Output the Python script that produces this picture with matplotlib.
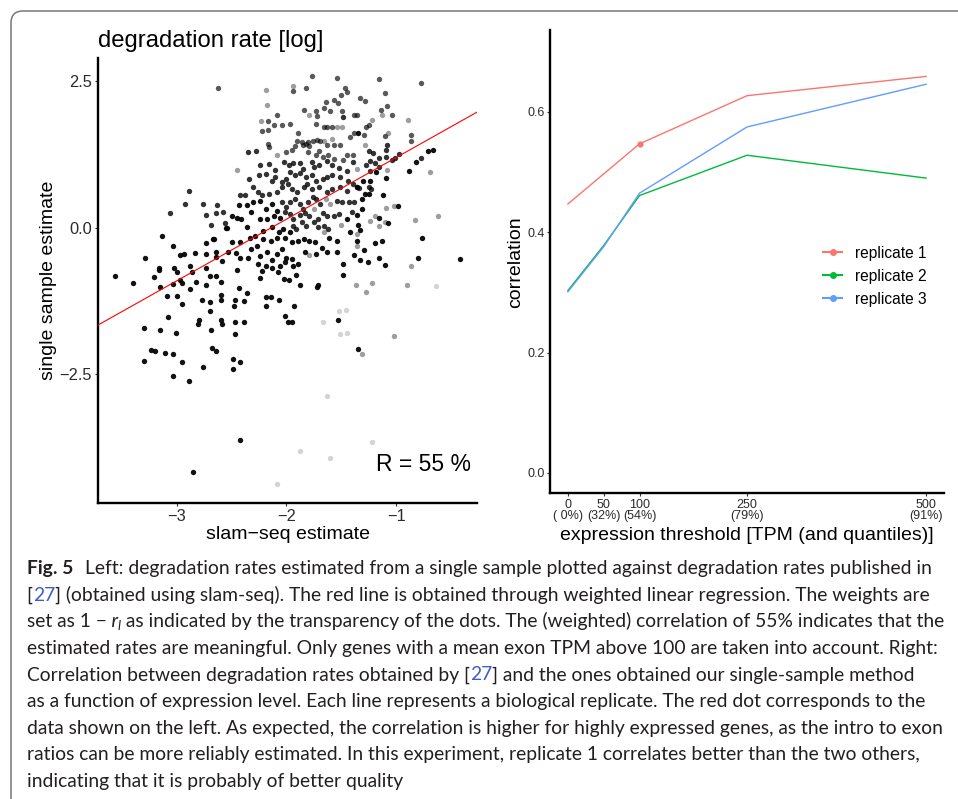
import matplotlib
matplotlib.use("Agg")
import matplotlib.pyplot as plt
from matplotlib import font_manager
from matplotlib.patches import FancyBboxPatch
from matplotlib.lines import Line2D
from matplotlib.transforms import IdentityTransform
from matplotlib.ticker import FuncFormatter

# ---------------------------------------------------------------- data
# left panel: (slam-seq estimate, single sample estimate) grouped by weight (1 - r)
weight_dark = 0.93
pts_dark = [
    (-2.55, -0.01), (-3.13, -0.15), (-3.03, -0.31), (-2.73, -0.27), (-2.67, -0.20), (-2.66, -0.20),
    (-2.97, -0.47), (-2.93, -0.45), (-2.83, -0.44), (-2.73, -0.45), (-2.64, -0.42), (-2.64, -0.50),
    (-2.59, -0.57), (-3.29, -0.52), (-3.16, -0.69), (-3.02, -0.69), (-2.88, -0.65), (-2.73, -0.69),
    (-3.56, -0.83), (-3.40, -0.95), (-3.21, -0.85), (-3.15, -1.01), (-3.00, -0.76), (-2.97, -0.90),
    (-2.86, -0.76), (-2.82, -0.93), (-3.03, -0.96), (-2.95, -0.94), (-2.88, -1.05), (-2.70, -0.82),
    (-2.64, -0.82), (-2.60, -0.93), (-2.73, -0.97), (-3.09, -1.17), (-3.00, -1.17), (-2.95, -1.30),
    (-3.08, -1.52), (-3.30, -1.71), (-3.15, -1.74), (-3.01, -1.79), (-2.77, -1.24), (-2.70, -1.27),
    (-2.60, -1.24), (-2.70, -1.42), (-2.80, -1.58), (-2.81, -1.64), (-2.69, -1.74), (-2.60, -1.58),
    (-2.59, -1.64), (-3.30, -2.27), (-3.23, -2.08), (-3.20, -2.11), (-3.11, -2.14), (-3.03, -2.15),
    (-2.95, -2.29), (-3.03, -2.52), (-2.89, -2.62), (-2.76, -2.37), (-2.68, -2.05), (-2.64, -2.11),
    (-2.85, -4.17), (-3.16, -0.72), (-2.60, -1.15),
    (-2.45, -0.72), (-2.24, -0.86), (-2.22, -0.74), (-2.08, -0.75), (-2.02, -0.87), (-1.98, -0.89),
    (-1.88, -0.97), (-1.72, -1.01), (-1.71, -0.97), (-2.43, -1.03), (-2.36, -1.12), (-2.47, -1.23),
    (-2.39, -1.25), (-2.48, -1.33), (-2.19, -1.19), (-2.14, -1.19), (-2.07, -1.23), (-2.19, -1.33),
    (-1.93, -1.33), (-2.01, -1.50), (-1.99, -1.60), (-1.95, -1.60), (-2.47, -1.61), (-2.39, -1.61),
    (-2.47, -1.81), (-2.49, -2.24), (-2.42, -2.29), (-2.49, -2.41), (-1.53, -1.57), (-1.48, -0.81),
    (-2.42, -3.62), (-1.35, -2.06), (-1.91, -0.80),
    (-2.43, 0.38), (-2.36, 0.39), (-2.30, 0.43), (-2.24, 0.46), (-2.19, 0.32), (-2.13, 0.40), (-2.09, 0.29),
    (-2.50, 0.20), (-2.45, 0.16), (-2.41, 0.15), (-2.32, 0.27), (-2.24, 0.15), (-2.18, 0.15), (-2.11, 0.20),
    (-2.06, 0.16), (-1.45, 0.15),
    (-2.54, -0.01), (-2.36, 0.01), (-2.29, -0.14), (-2.21, -0.05), (-2.13, 0.01), (-2.07, -0.08),
    (-2.03, -0.02), (-1.97, -0.08), (-1.42, -0.08),
    (-2.50, -0.25), (-2.42, -0.25), (-2.33, -0.17), (-2.27, -0.31), (-2.21, -0.19), (-2.14, -0.22),
    (-2.09, -0.17), (-2.01, -0.17), (-1.95, -0.25), (-1.89, -0.22), (-1.84, -0.19), (-1.79, -0.22),
    (-1.74, -0.25), (-1.61, -0.17), (-1.54, -0.22),
    (-2.53, -0.42), (-2.46, -0.44), (-2.42, -0.51), (-2.35, -0.51), (-2.32, -0.36), (-2.24, -0.48),
    (-2.18, -0.42), (-2.13, -0.56), (-2.09, -0.45), (-2.04, -0.36), (-2.00, -0.51), (-1.95, -0.54),
    (-1.89, -0.62), (-1.83, -0.42), (-1.73, -0.45), (-1.68, -0.35), (-1.63, -0.42), (-1.54, -0.42),
    (-1.48, -0.62), (-1.38, -0.47),
    (-2.26, -0.62), (-2.19, -0.65), (-2.13, -0.68), (-2.06, -0.65), (-2.01, -0.59), (-1.94, -0.65),
    (-0.71, 1.30), (-0.66, 1.33), (-0.82, 1.12), (-1.18, 0.94), (-0.88, 0.97), (-1.09, 0.85),
    (-1.30, 0.80), (-1.24, 0.79), (-1.28, 0.57), (-1.25, 0.58), (-1.12, 0.56), (-1.31, 0.48),
    (-0.98, 0.36), (-1.31, 0.32), (-1.36, 0.21), (-1.16, 0.16), (-1.07, 0.08), (-1.33, -0.04),
    (-1.35, 0.05), (-1.13, -0.22), (-1.19, -0.27), (-1.36, -0.23), (-1.29, -0.38), (-0.76, -0.18),
    (-0.42, -0.54), (-0.80, -0.52), (-1.16, -0.52), (-1.33, -0.55), (-1.26, -0.59), (-1.10, -0.63),
    (-1.35, 1.61),
]

weight_dkgray = 0.80
pts_dkgray = [
    (-2.89, 0.63), (-2.92, 0.40), (-2.76, 0.40), (-2.63, 0.38), (-3.06, 0.25), (-2.73, 0.22),
    (-2.64, 0.25), (-2.58, 0.27), (-2.69, 0.05), (-2.56, 0.08),
    (-2.24, 1.06), (-2.16, 1.09), (-2.10, 0.98), (-2.02, 1.12), (-1.98, 1.07), (-1.94, 1.10),
    (-1.88, 1.10), (-1.85, 1.00), (-1.77, 1.12), (-1.75, 1.03), (-1.70, 1.06), (-1.63, 1.14),
    (-1.58, 1.06), (-1.52, 1.01), (-1.45, 0.97), (-1.39, 1.12),
    (-2.34, 0.83), (-2.25, 0.90), (-2.19, 0.92), (-2.13, 0.79), (-2.10, 0.86), (-2.04, 0.77),
    (-2.00, 0.83), (-1.97, 0.94), (-1.92, 0.89), (-1.88, 0.93), (-1.82, 0.86), (-1.77, 0.90),
    (-1.73, 0.79), (-1.67, 0.82), (-1.63, 0.86), (-1.58, 0.89), (-1.51, 0.86), (-1.44, 0.80),
    (-1.39, 0.75),
    (-2.38, 0.56), (-2.42, 0.55), (-2.30, 0.69), (-2.26, 0.61), (-2.22, 0.55), (-2.16, 0.57),
    (-2.09, 0.60), (-2.04, 0.69), (-1.99, 0.75), (-1.95, 0.66), (-1.90, 0.61), (-1.84, 0.69),
    (-1.81, 0.75), (-1.77, 0.66), (-1.70, 0.70), (-1.63, 0.61), (-1.58, 0.66), (-1.51, 0.70),
    (-1.45, 0.63), (-1.36, 0.70),
    (-2.04, 0.43), (-2.00, 0.35), (-1.97, 0.43), (-1.92, 0.48), (-1.88, 0.40), (-1.85, 0.32),
    (-1.80, 0.43), (-1.76, 0.52), (-1.73, 0.49), (-1.69, 0.40), (-1.54, 0.46), (-1.49, 0.43),
    (-1.43, 0.43), (-1.38, 0.43),
    (-2.01, 0.26), (-1.97, 0.23), (-1.94, 0.15), (-1.88, 0.22), (-1.83, 0.25), (-1.79, 0.20),
    (-1.71, 0.15), (-1.67, 0.25), (-1.63, 0.20), (-1.57, 0.20), (-1.52, 0.23), (-1.40, 0.26),
    (-1.94, 0.03), (-1.91, -0.02), (-1.86, 0.09), (-1.82, 0.03), (-1.75, 0.09), (-1.71, 0.01),
    (-1.66, 0.03), (-1.62, -0.02),
    (-2.35, 1.29), (-2.28, 1.30), (-1.48, 1.88),
    (-1.25, 1.30), (-1.21, 1.27), (-0.97, 1.25), (-1.01, 1.19), (-1.04, 1.16), (-1.09, 1.20),
    (-1.16, 1.19), (-1.24, 1.13), (-1.19, 1.10), (-1.27, 1.07), (-1.16, 1.03), (-0.77, 1.18),
    (-1.24, 0.96), (-1.36, 0.69), (-1.34, 0.67), (-1.25, 0.69), (-1.23, 0.65), (-1.09, 1.33),
    (-1.08, 1.40),
]

weight_mid = 0.65
pts_mid = [
    (-2.62, 2.38),
    (-1.77, 2.58), (-1.54, 2.55), (-1.94, 2.33), (-1.82, 2.37), (-1.47, 2.37), (-1.45, 2.31),
    (-1.50, 2.26), (-2.09, 1.92), (-2.17, 1.81), (-1.84, 2.01), (-1.73, 1.98), (-1.72, 1.90),
    (-1.66, 2.03), (-1.64, 2.14), (-1.57, 2.18), (-1.60, 1.98), (-1.53, 2.12), (-1.49, 1.98),
    (-1.38, 1.91), (-2.11, 1.74), (-2.04, 1.75), (-1.97, 1.77), (-1.89, 1.62), (-1.73, 1.77),
    (-1.66, 1.71), (-1.63, 1.72), (-1.58, 1.72), (-2.22, 1.64), (-2.17, 1.67), (-1.42, 1.54),
    (-1.38, 1.62), (-2.17, 1.43), (-2.16, 1.37), (-1.90, 1.48), (-1.86, 1.46), (-1.80, 1.45),
    (-1.76, 1.47), (-1.72, 1.49), (-1.69, 1.47), (-1.92, 1.39), (-1.85, 1.40), (-1.82, 1.43),
    (-1.79, 1.39), (-1.63, 1.41), (-1.57, 1.40), (-1.51, 1.40), (-2.00, 1.29), (-1.95, 1.33),
    (-1.80, 1.29), (-1.73, 1.23), (-1.70, 1.31), (-1.67, 1.20), (-1.62, 1.24), (-1.57, 1.17),
    (-1.48, 1.16), (-1.45, 1.23), (-1.39, 1.24),
    (-1.16, 2.53), (-0.77, 2.46), (-1.10, 2.30), (-1.33, 2.21), (-1.28, 2.15), (-1.08, 2.07),
    (-1.14, 2.01), (-1.04, 1.92), (-1.36, 1.91), (-1.25, 1.75), (-1.27, 1.71), (-1.10, 1.56),
    (-0.86, 1.57), (-0.86, 1.48), (-1.29, 1.58),
]

weight_light = 0.38
pts_light = [
    (-1.94, 2.42), (-2.19, 2.35), (-2.18, 2.09), (-2.23, 1.81), (-1.79, 1.91), (-1.54, 1.72),
    (-1.49, 1.72), (-1.58, 1.51), (-1.66, 1.47), (-2.09, 1.23), (-2.45, 0.98), (-1.64, 0.48),
    (-1.60, 0.40), (-1.75, 0.31), (-1.50, 0.05), (-1.66, -0.08), (-1.79, -0.47),
    (-1.13, 1.92), (-1.22, 1.84), (-0.89, 1.83), (-1.07, 1.61), (-1.28, 1.40), (-1.36, 1.00),
    (-1.08, 0.98), (-0.69, 0.95), (-1.02, 0.36), (-1.09, 0.33), (-1.19, 0.19), (-1.24, 0.12),
    (-1.10, 0.10), (-0.83, 0.13), (-0.62, 0.19), (-1.16, 0.03), (-1.36, -0.11), (-1.36, -0.31),
    (-0.86, -0.65),
    (-1.37, -0.97), (-1.22, -0.94), (-1.27, -1.10), (-0.90, -0.98), (-1.02, -1.84), (-1.31, -2.15),
]

weight_faint = 0.17
pts_faint = [
    (-1.67, -1.60), (-1.52, -1.42), (-1.46, -1.41), (-1.51, -1.81), (-1.45, -1.79), (-0.64, -0.99),
    (-1.63, -2.87), (-1.88, -3.80), (-1.60, -3.92), (-1.22, -3.65), (-2.09, -4.36),
]

# weighted linear regression (red line)
reg_slope = 1.05
reg_intercept = 2.243
r_text = "R = 55 %"
r_pos = (-0.32, -4.15)

# right panel
thresholds = [0, 50, 100, 250, 500]
quantiles = ["( 0%)", "(32%)", "(54%)", "(79%)", "(91%)"]
replicate_names = ["replicate 1", "replicate 2", "replicate 3"]
replicate_colors = ["#F8766D", "#00BA38", "#619CFF"]
rep1 = [0.447, 0.497, 0.547, 0.627, 0.659]
rep2 = [0.303, 0.378, 0.461, 0.528, 0.490]
rep3 = [0.301, 0.376, 0.465, 0.575, 0.646]
highlight_threshold = 100   # red dot: data shown on the left

caption_lines = [
    [("Fig. 5", {"weight": "bold"}),
     ("Left: degradation rates estimated from a single sample plotted against degradation rates published in", {"gap": 11.7})],
    [("[", {}), ("27", {"link": True}),
     ("] (obtained using slam-seq). The red line is obtained through weighted linear regression. The weights are", {})],
    [("set as 1 \u2212", {}), (" r", {"style": "italic"}), ("l", {"style": "italic", "scale": 0.7, "drop": 3}),
     (" as indicated by the transparency of the dots. The (weighted) correlation of 55% indicates that the", {})],
    [("estimated rates are meaningful. Only genes with a mean exon TPM above 100 are taken into account. Right:", {})],
    [("Correlation between degradation rates obtained by [", {}), ("27", {"link": True}),
     ("] and the ones obtained our single-sample method", {})],
    [("as a function of expression level. Each line represents a biological replicate. The red dot corresponds to the", {})],
    [("data shown on the left. As expected, the correlation is higher for highly expressed genes, as the intro to exon", {})],
    [("ratios can be more reliably estimated. In this experiment, replicate 1 correlates better than the two others,", {})],
    [("indicating that it is probably of better quality", {})],
]

# ---------------------------------------------------------------- setup
W, H, DPI = 958, 799, 100
installed = {f.name for f in font_manager.fontManager.ttflist}
CHART_FONT = "Liberation Sans" if "Liberation Sans" in installed else "DejaVu Sans"
CAP_FONT = next((f for f in ["Liberation Sans Narrow", "Lato", "Roboto"] if f in installed), "DejaVu Sans")
plt.rcParams["font.family"] = [CHART_FONT, "DejaVu Sans"]

fig = plt.figure(figsize=(W / DPI, H / DPI), dpi=DPI)
fig.patch.set_facecolor("white")
renderer = fig.canvas.get_renderer()


def fx(px):
    return px / W


def fy(py):
    return 1 - py / H


def style_axes(ax, tick_size, label_color="#2b2b2b"):
    for s in ("top", "right"):
        ax.spines[s].set_visible(False)
    for s in ("left", "bottom"):
        ax.spines[s].set_linewidth(1.7)
        ax.spines[s].set_color("black")
    ax.tick_params(length=2.5, width=0.8, color="#333333", labelsize=tick_size,
                   labelcolor=label_color, pad=1.5)
    ax.set_facecolor("white")


# ---------------------------------------------------------------- left panel
axL = fig.add_axes([fx(97.7), fy(503.3), (477.3 - 97.7) / W, (503.3 - 57.9) / H])
for pts, w in [(pts_faint, weight_faint), (pts_light, weight_light), (pts_mid, weight_mid),
               (pts_dkgray, weight_dkgray), (pts_dark, weight_dark)]:
    xs = [p[0] for p in pts]
    ys = [p[1] for p in pts]
    axL.scatter(xs, ys, s=15, c="black", alpha=w, linewidths=0, zorder=2)
axL.axline((0, reg_intercept), slope=reg_slope, color="red", lw=0.8, zorder=3)
axL.set_xlim(-3.72, -0.26)
axL.set_ylim(-4.697, 2.891)
axL.set_xticks([-3, -2, -1])
axL.set_yticks([-2.5, 0.0, 2.5])
axL.xaxis.set_major_formatter(FuncFormatter(lambda v, p: f"{v:.0f}".replace("-", "\u2212")))
axL.yaxis.set_major_formatter(FuncFormatter(lambda v, p: f"{v:.1f}".replace("-", "\u2212")))
style_axes(axL, 11.8)
axL.text(r_pos[0], r_pos[1], r_text, ha="right", va="baseline", fontsize=16.5, color="black")

fig.text(fx(97.7), fy(47.5), "degradation rate [log]", ha="left", va="baseline", fontsize=17.2)
fig.text(fx(287.5), fy(539), "slam\u2212seq estimate", ha="center", va="baseline", fontsize=14)
fig.text(fx(49), fy(280.6), "single sample estimate", ha="center", va="center", rotation=90, fontsize=14)

# ---------------------------------------------------------------- right panel
axR = fig.add_axes([fx(550), fy(493.1), (944 - 550) / W, (493.1 - 30.3) / H])
series = [rep1, rep2, rep3]
for vals, col in zip(series, replicate_colors):
    axR.plot(thresholds, vals, color=col, lw=1.0, zorder=2)
hi = thresholds.index(highlight_threshold)
axR.scatter([highlight_threshold], [rep1[hi]], s=20, color=replicate_colors[0], linewidths=0, zorder=3)
axR.set_xlim(-25, 525)
axR.set_ylim(-0.0337, 0.7357)
axR.set_yticks([0.0, 0.2, 0.4, 0.6])
axR.yaxis.set_major_formatter(FuncFormatter(lambda v, p: f"{v:.1f}"))
axR.set_xticks(thresholds)
axR.set_xticklabels([f"{t}\n{q}" for t, q in zip(thresholds, quantiles)], linespacing=0.95)
style_axes(axR, 9.0)
fig.text(fx(747), fy(540), "expression threshold [TPM (and quantiles)]", ha="center", va="baseline", fontsize=14)
fig.text(fx(516), fy(261.7), "correlation", ha="center", va="center", rotation=90, fontsize=14)

# legend
legend_rows = [252, 275, 298]
for name, col, yy in zip(replicate_names, replicate_colors, legend_rows):
    fig.add_artist(Line2D([823, 842], [H - yy, H - yy], transform=IdentityTransform(),
                          color=col, lw=1.5))
    fig.add_artist(Line2D([832.5], [H - yy], transform=IdentityTransform(), marker="o",
                          markersize=4, color=col, lw=0))
    fig.text(fx(855), fy(yy), name, ha="left", va="center_baseline", fontsize=11.2)

# ---------------------------------------------------------------- border
border = FancyBboxPatch((11, -40), 1000, H - 11 + 40, boxstyle="round,pad=0,rounding_size=12",
                        transform=IdentityTransform(), facecolor="none", edgecolor="#777777",
                        linewidth=1.1)
fig.add_artist(border)

# ---------------------------------------------------------------- caption
CAP_COLOR = "#231f20"
LINK_COLOR = "#3a5fcd"
probe1 = fig.text(0, 0, caption_lines[-1][0][0], fontsize=14, family=CAP_FONT)
w_last = probe1.get_window_extent(renderer).width
probe1.remove()
probe2 = fig.text(0, 0, caption_lines[6][0][0], fontsize=14, family=CAP_FONT)
w_long = probe2.get_window_extent(renderer).width
probe2.remove()
cap_size = 0.5 * (14 * 378.0 / w_last + 14 * 918.0 / w_long)

base0, step = 574.0, 26.62
for i, segs in enumerate(caption_lines):
    yb = base0 + i * step
    x = 26.7
    for text, kw in segs:
        x += kw.get("gap", 0) * cap_size / 14.0
        t = fig.text(fx(x), fy(yb + kw.get("drop", 0)), text,
                     fontsize=cap_size * kw.get("scale", 1.0), family=[CAP_FONT, "DejaVu Sans"],
                     color=LINK_COLOR if kw.get("link") else CAP_COLOR,
                     fontweight=kw.get("weight", "normal"), fontstyle=kw.get("style", "normal"),
                     ha="left", va="baseline")
        x += t.get_window_extent(renderer).width

fig.savefig("out.png", dpi=DPI, facecolor="white")
